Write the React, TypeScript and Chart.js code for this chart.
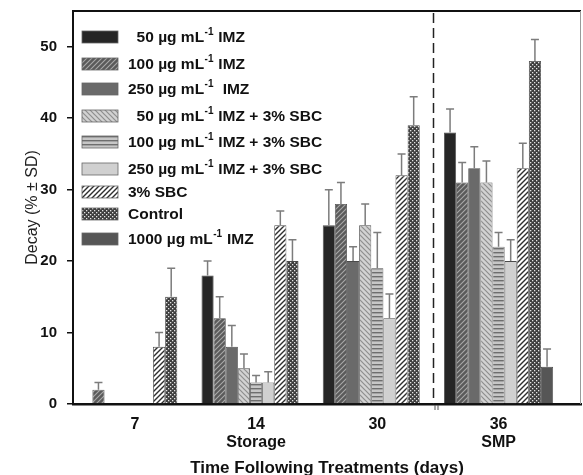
import React, { useEffect, useRef } from 'react';
import { Chart, registerables } from 'chart.js';

Chart.register(...registerables);

// ---- data ----
const dayIndex = [0, 1, 2, 3];
const dayTicks: string[][] = [['7'], ['14', 'Storage'], ['30'], ['36', 'SMP']];

const imz50 = [0, 18, 25, 38];
const imz50Sd = [0, 2, 5, 3.3];
const imz100 = [2, 12, 28, 31];
const imz100Sd = [1, 3, 3, 2.8];
const imz250 = [0, 8, 20, 33];
const imz250Sd = [0, 3, 2, 3];
const imz50Sbc = [0, 5, 25, 31];
const imz50SbcSd = [0, 2, 3, 3];
const imz100Sbc = [0, 3, 19, 22];
const imz100SbcSd = [0, 1, 5, 2];
const imz250Sbc = [0, 3, 12, 20];
const imz250SbcSd = [0, 1.5, 3.4, 3];
const sbc3 = [8, 25, 32, 33];
const sbc3Sd = [2, 2, 3, 3.5];
const control = [15, 20, 39, 48];
const controlSd = [4, 3, 4, 3];
const imz1000 = [null, null, null, 5.2];
const imz1000Sd = [null, null, null, 2.5];

const seriesLabels = [
  '  50 µg mL⁻¹ IMZ',
  '100 µg mL⁻¹ IMZ',
  '250 µg mL⁻¹  IMZ',
  '  50 µg mL⁻¹ IMZ + 3% SBC',
  '100 µg mL⁻¹ IMZ + 3% SBC',
  '250 µg mL⁻¹ IMZ + 3% SBC',
  '3% SBC',
  'Control',
  '1000 µg mL⁻¹ IMZ',
];

const yTitle = 'Decay (% ± SD)';
const xTitle = 'Time Following Treatments (days)';

const FONT = '"Liberation Sans", Arial, Helvetica, sans-serif';
// vertical offsets of legend rows from the top of the plot area
const legendRowOffsets = [26, 53, 78, 105, 131, 158, 181, 203, 228];

// ---- patterns ----
function tile(size: number, draw: (c: CanvasRenderingContext2D) => void) {
  const cv = document.createElement('canvas');
  cv.width = size;
  cv.height = size;
  const c = cv.getContext('2d')!;
  draw(c);
  return cv;
}

function makeFills(ctx: CanvasRenderingContext2D) {
  const fwd = (bg: string, fg: string, s: number, lw: number) =>
    ctx.createPattern(
      tile(s, (c) => {
        c.fillStyle = bg;
        c.fillRect(0, 0, s, s);
        c.strokeStyle = fg;
        c.lineWidth = lw;
        c.beginPath();
        c.moveTo(-1, 1); c.lineTo(1, -1);
        c.moveTo(0, s); c.lineTo(s, 0);
        c.moveTo(s - 1, s + 1); c.lineTo(s + 1, s - 1);
        c.stroke();
      }),
      'repeat'
    )!;
  const back = (bg: string, fg: string, s: number, lw: number) =>
    ctx.createPattern(
      tile(s, (c) => {
        c.fillStyle = bg;
        c.fillRect(0, 0, s, s);
        c.strokeStyle = fg;
        c.lineWidth = lw;
        c.beginPath();
        c.moveTo(-1, s - 1); c.lineTo(1, s + 1);
        c.moveTo(0, 0); c.lineTo(s, s);
        c.moveTo(s - 1, -1); c.lineTo(s + 1, 1);
        c.stroke();
      }),
      'repeat'
    )!;
  const horiz = ctx.createPattern(
    tile(4, (c) => {
      c.fillStyle = '#c6c6c6';
      c.fillRect(0, 0, 4, 4);
      c.fillStyle = '#6e6e6e';
      c.fillRect(0, 0, 4, 1.4);
    }),
    'repeat'
  )!;
  const checker = ctx.createPattern(
    tile(4, (c) => {
      c.fillStyle = '#3e3e3e';
      c.fillRect(0, 0, 4, 4);
      c.fillStyle = '#e4e4e4';
      c.fillRect(0, 0, 1.3, 1.3);
      c.fillRect(2, 2, 1.3, 1.3);
    }),
    'repeat'
  )!;
  return [
    '#262626',
    fwd('#5a5a5a', '#a9a9a9', 5, 1.1),
    '#6a6a6a',
    back('#d2d2d2', '#8e8e8e', 5, 1.2),
    horiz,
    '#d0d0d0',
    fwd('#ffffff', '#2e2e2e', 5, 1.4),
    checker,
    '#565656',
  ];
}

// ---- plugins ----
const errorBars = {
  id: 'errorBars',
  afterDatasetsDraw(chart: any) {
    const { ctx } = chart;
    const y = chart.scales.y;
    ctx.save();
    ctx.strokeStyle = '#7c7c7c';
    ctx.lineWidth = 1.5;
    chart.data.datasets.forEach((ds: any, i: number) => {
      const meta = chart.getDatasetMeta(i);
      meta.data.forEach((bar: any, j: number) => {
        const v = ds.data[j]?.y;
        const e = ds.sd[j];
        if (v == null || !e) return;
        const top = y.getPixelForValue(v + e);
        ctx.beginPath();
        ctx.moveTo(bar.x, bar.y);
        ctx.lineTo(bar.x, top);
        ctx.moveTo(bar.x - 4, top);
        ctx.lineTo(bar.x + 4, top);
        ctx.stroke();
      });
    });
    ctx.restore();
  },
};

function drawRich(ctx: CanvasRenderingContext2D, text: string, x: number, y: number, size: number) {
  const parts = text.split('⁻¹');
  let cx = x;
  parts.forEach((p, k) => {
    ctx.font = `bold ${size}px ${FONT}`;
    ctx.textBaseline = 'middle';
    ctx.fillText(p, cx, y);
    cx += ctx.measureText(p).width;
    if (k < parts.length - 1) {
      ctx.font = `bold ${Math.round(size * 0.62)}px ${FONT}`;
      ctx.fillText('-1', cx + 0.5, y - size * 0.36);
      cx += ctx.measureText('-1').width + 1;
    }
  });
}

const insideLegend = {
  id: 'insideLegend',
  afterDraw(chart: any) {
    const { ctx, chartArea } = chart;
    const x0 = chartArea.left + 9;
    ctx.save();
    chart.data.datasets.forEach((ds: any, i: number) => {
      const cy = chartArea.top + legendRowOffsets[i];
      ctx.fillStyle = ds.backgroundColor;
      ctx.fillRect(x0, cy - 6, 36, 12);
      ctx.strokeStyle = '#666';
      ctx.lineWidth = 0.8;
      ctx.strokeRect(x0, cy - 6, 36, 12);
      ctx.fillStyle = '#111';
      drawRich(ctx, ds.label, x0 + 46, cy + 1, 15.5);
    });
    ctx.restore();
  },
};

const frame = {
  id: 'frame',
  afterDraw(chart: any) {
    const { ctx, chartArea } = chart;
    const x = chart.scales.x;
    ctx.save();
    // top border
    ctx.strokeStyle = '#111';
    ctx.lineWidth = 2;
    ctx.beginPath();
    ctx.moveTo(chartArea.left - 1, chartArea.top);
    ctx.lineTo(chartArea.right, chartArea.top);
    ctx.stroke();
    // right border
    ctx.strokeStyle = '#9a9a9a';
    ctx.lineWidth = 1;
    ctx.beginPath();
    ctx.moveTo(chartArea.right - 0.5, chartArea.top);
    ctx.lineTo(chartArea.right - 0.5, chartArea.bottom);
    ctx.stroke();
    // divider between storage and SMP
    const dx = Math.round(x.getPixelForValue(2.46)) + 0.5;
    ctx.strokeStyle = '#222';
    ctx.lineWidth = 1.5;
    ctx.setLineDash([10, 5]);
    ctx.beginPath();
    ctx.moveTo(dx, chartArea.top + 2);
    ctx.lineTo(dx, chartArea.bottom);
    ctx.stroke();
    ctx.setLineDash([]);
    // axis break mark
    ctx.lineWidth = 1;
    ctx.strokeStyle = '#555';
    ctx.beginPath();
    ctx.moveTo(dx + 1.5, chartArea.bottom + 1);
    ctx.lineTo(dx + 1.5, chartArea.bottom + 6);
    ctx.moveTo(dx + 4.5, chartArea.bottom + 1);
    ctx.lineTo(dx + 4.5, chartArea.bottom + 6);
    ctx.stroke();
    ctx.restore();
  },
};

export default function App() {
  const ref = useRef<HTMLCanvasElement>(null);
  useEffect(() => {
    const canvas = ref.current!;
    const ctx = canvas.getContext('2d')!;
    const fills = makeFills(ctx);
    const seriesValues = [imz50, imz100, imz250, imz50Sbc, imz100Sbc, imz250Sbc, sbc3, control, imz1000];
    const seriesSd = [imz50Sd, imz100Sd, imz250Sd, imz50SbcSd, imz100SbcSd, imz250SbcSd, sbc3Sd, controlSd, imz1000Sd];
    const datasets = seriesValues.map((vals, i) => ({
      label: seriesLabels[i],
      data: dayIndex.map((d, j) => ({ x: d, y: vals[j] })),
      sd: seriesSd[i],
      backgroundColor: fills[i],
      borderColor: '#4a4a4a',
      borderWidth: 0.8,
      categoryPercentage: 0.9,
      barPercentage: 1,
    }));
    const chart = new Chart(canvas, {
      type: 'bar',
      data: { datasets: datasets as any },
      options: {
        animation: false,
        responsive: false,
        devicePixelRatio: 1,
        layout: { padding: { top: 11, right: 2, left: 0, bottom: 0 } },
        plugins: { legend: { display: false }, tooltip: { enabled: false } },
        scales: {
          x: {
            type: 'linear',
            min: -0.51,
            max: 3.68,
            offset: false,
            grid: { display: true, drawOnChartArea: false, drawTicks: false, offset: false },
            border: { display: true, color: '#111', width: 2.5 },
            afterBuildTicks: (s: any) => {
              s.ticks = dayIndex.map((v) => ({ value: v }));
            },
            afterFit: (s: any) => {
              s.height = 71;
              s.paddingLeft = 0;
              s.paddingRight = 0;
            },
            ticks: {
              autoSkip: false,
              maxRotation: 0,
              padding: 12,
              color: '#111',
              font: { family: FONT, size: 16, weight: 'bold', lineHeight: 1.1 },
              callback: (v: any) => dayTicks[Math.round(Number(v))] ?? '',
            },
            title: {
              display: true,
              text: xTitle,
              color: '#111',
              font: { family: FONT, size: 17, weight: 'bold', lineHeight: 0.8 },
              padding: { top: 0, bottom: 0 },
            },
          },
          y: {
            min: 0,
            max: 55,
            grid: { drawOnChartArea: false, drawTicks: true, tickLength: 6, color: '#111', lineWidth: 1.5 },
            border: { display: true, color: '#111', width: 2 },
            afterBuildTicks: (s: any) => {
              s.ticks = s.ticks.filter((t: any) => t.value % 10 === 0);
            },
            afterFit: (s: any) => {
              s.width = 73;
              s.paddingTop = 0;
              s.paddingBottom = 0;
            },
            ticks: {
              stepSize: 10,
              padding: 10,
              color: '#111',
              font: { family: FONT, size: 15, weight: 'bold' },
            },
            title: {
              display: true,
              text: yTitle,
              color: '#222',
              font: { family: FONT, size: 16, weight: 'normal', lineHeight: 1.2 },
              padding: { top: 23, bottom: 0 },
            },
          },
        },
      },
      plugins: [errorBars, frame, insideLegend],
    });
    return () => chart.destroy();
  }, []);
  return (
    <div style={{ position: 'absolute', left: 0, top: 0, width: 583, height: 475, background: '#fff' }}>
      <canvas ref={ref} width={583} height={475} style={{ display: 'block', width: 583, height: 475 }} />
    </div>
  );
}
